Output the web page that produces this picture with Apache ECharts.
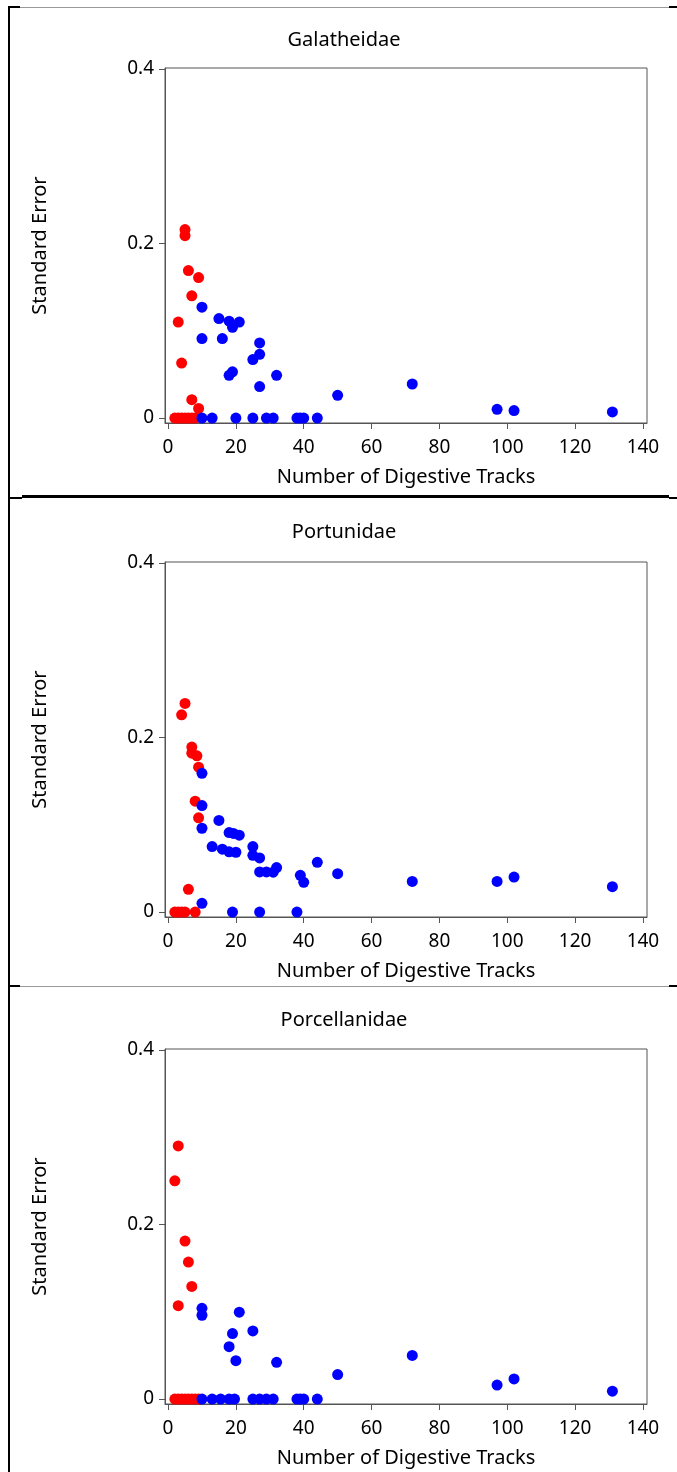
<!DOCTYPE html>
<html>
<head>
<meta charset="utf-8">
<script src="https://cdn.jsdelivr.net/npm/echarts@6/dist/echarts.min.js"></script>
<style>
  html, body { margin: 0; padding: 0; background: #fff; }
  #main { width: 677px; height: 1472px; }
</style>
</head>
<body>
<div id="main"></div>
<script>
var myChart = echarts.init(document.getElementById('main'));

// panel titles
const panelNames = ['Galatheidae', 'Portunidae', 'Porcellanidae'];
const xTicks = [0, 20, 40, 60, 80, 100, 120, 140];
const yTicks = [0, 0.2, 0.4];

// Galatheidae
const galRed = [
  [5, 0.216], [5, 0.209], [6, 0.169], [9, 0.161], [7, 0.140], [3, 0.110],
  [4, 0.063], [7, 0.021], [9, 0.011],
  [2, 0], [3, 0], [4, 0], [5, 0], [6, 0], [7, 0], [8, 0]
];
const galBlue = [
  [10, 0.127], [15, 0.114], [18, 0.111], [21, 0.110], [19, 0.104], [10, 0.091],
  [16, 0.091], [27, 0.086], [27, 0.073], [25, 0.067], [19, 0.053], [18, 0.049],
  [32, 0.049], [27, 0.036], [50, 0.026], [72, 0.039], [97, 0.010], [102, 0.0085],
  [131, 0.007],
  [10, 0], [13, 0], [20, 0], [25, 0], [29, 0], [31, 0], [38, 0], [39, 0], [40, 0], [44, 0]
];

// Portunidae
const porRed = [
  [5, 0.239], [4, 0.226], [7, 0.189], [7, 0.182], [8.5, 0.179], [9, 0.166],
  [8, 0.127], [9, 0.108], [6, 0.026],
  [2, 0], [3, 0], [4, 0], [5, 0], [8, 0]
];
const porBlue = [
  [10, 0.159], [10, 0.122], [15, 0.105], [10, 0.096], [18, 0.091], [19.3, 0.090],
  [21, 0.088], [13, 0.075], [16, 0.072], [18, 0.069], [20, 0.0685], [25, 0.075],
  [25, 0.065], [27, 0.062], [27, 0.046], [29, 0.046], [31, 0.0456], [32, 0.051],
  [39, 0.042], [40, 0.034], [44, 0.057], [50, 0.044], [10, 0.010], [72, 0.035],
  [97, 0.035], [102, 0.040], [131, 0.029],
  [19, 0], [27, 0], [38, 0]
];

// Porcellanidae
const pceRed = [
  [3, 0.290], [2, 0.250], [5, 0.181], [6, 0.157], [7, 0.129], [3, 0.107],
  [2, 0], [3, 0], [4, 0], [5, 0], [6, 0], [7, 0], [8, 0], [9, 0]
];
const pceBlue = [
  [10, 0.104], [10, 0.096], [21, 0.0995], [19, 0.075], [25, 0.078], [18, 0.060],
  [20, 0.044], [32, 0.042], [50, 0.028], [72, 0.050], [97, 0.016], [102, 0.023],
  [131, 0.009],
  [10, 0], [13, 0], [15.5, 0], [18, 0], [19.6, 0], [25, 0], [27, 0], [29, 0],
  [31, 0], [38, 0], [39, 0], [40, 0], [44, 0]
];

const redSets = [galRed, porRed, pceRed];
const blueSets = [galBlue, porBlue, pceBlue];

const font = 'Noto Sans';
const axisColor = '#555';
const gridTops = [68, 562, 1049];
const titleY = [40, 532, 1020];

const grids = [], xAxes = [], yAxes = [], series = [];
gridTops.forEach(function (top, i) {
  grids.push({
    left: 165, top: top, width: 482, height: 355,
    show: true, borderColor: axisColor, borderWidth: 1
  });
  xAxes.push({
    gridIndex: i, type: 'value', min: -0.9, max: 141.2,
    name: 'Number of Digestive Tracks', nameLocation: 'middle', nameGap: 44,
    nameTextStyle: { fontFamily: font, fontSize: 20, color: '#000' },
    axisLine: { show: true, onZero: false, lineStyle: { color: axisColor } },
    axisTick: { show: true, length: 6, customValues: xTicks, lineStyle: { color: axisColor } },
    axisLabel: { customValues: xTicks, margin: 15, fontFamily: font, fontSize: 19, color: '#000' },
    splitLine: { show: false }
  });
  yAxes.push({
    gridIndex: i, type: 'value', min: -0.0057, max: 0.4011,
    name: 'Standard Error', nameLocation: 'middle', nameGap: 115, nameRotate: 90,
    nameTextStyle: { fontFamily: font, fontSize: 20, color: '#000' },
    axisLine: { show: true, onZero: false, lineStyle: { color: axisColor } },
    axisTick: { show: true, length: 6, customValues: yTicks, lineStyle: { color: axisColor } },
    axisLabel: {
      customValues: yTicks, margin: 11, fontFamily: font, fontSize: 19, color: '#000',
      formatter: function (v) { return v === 0 ? '0' : v.toFixed(1); }
    },
    splitLine: { show: false }
  });
  series.push({
    type: 'scatter', xAxisIndex: i, yAxisIndex: i, data: redSets[i],
    symbolSize: 11, itemStyle: { color: '#ff0000', opacity: 1 }
  });
  series.push({
    type: 'scatter', xAxisIndex: i, yAxisIndex: i, data: blueSets[i],
    symbolSize: 11, itemStyle: { color: '#0000ff', opacity: 1 }
  });
});

// frame lines and panel titles
const graphics = [
  { type: 'rect', shape: { x: 8, y: 7, width: 2, height: 1465 }, style: { fill: '#000' } },
  { type: 'rect', shape: { x: 8, y: 6, width: 12, height: 2 }, style: { fill: '#000' } },
  { type: 'rect', shape: { x: 20, y: 7, width: 649, height: 1 }, style: { fill: '#999' } },
  { type: 'rect', shape: { x: 669, y: 6, width: 8, height: 2 }, style: { fill: '#000' } },
  { type: 'rect', shape: { x: 22, y: 495, width: 647, height: 3 }, style: { fill: '#000' } },
  { type: 'rect', shape: { x: 8, y: 497, width: 14, height: 2 }, style: { fill: '#000' } },
  { type: 'rect', shape: { x: 669, y: 497, width: 8, height: 2 }, style: { fill: '#000' } },
  { type: 'rect', shape: { x: 20, y: 986, width: 649, height: 1 }, style: { fill: '#999' } },
  { type: 'rect', shape: { x: 8, y: 985, width: 12, height: 2 }, style: { fill: '#000' } },
  { type: 'rect', shape: { x: 669, y: 985, width: 8, height: 2 }, style: { fill: '#000' } }
];
panelNames.forEach(function (name, i) {
  graphics.push({
    type: 'text', x: 344, y: titleY[i],
    style: { text: name, fontFamily: font, fontSize: 20, fill: '#000', align: 'center', verticalAlign: 'middle' }
  });
});

const option = {
  animation: false,
  grid: grids,
  xAxis: xAxes,
  yAxis: yAxes,
  series: series,
  graphic: graphics
};

myChart.setOption(option);
</script>
</body>
</html>
